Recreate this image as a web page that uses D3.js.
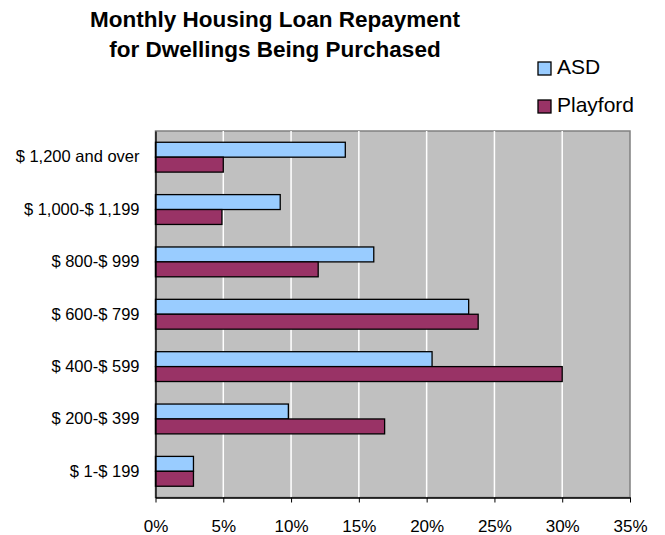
<!DOCTYPE html>
<html>
<head>
<meta charset="utf-8">
<script src="https://cdn.jsdelivr.net/npm/d3@7"></script>
<style>
  body { margin: 0; background: #fff; }
  text { font-family: Arial, "Liberation Sans", sans-serif; fill: #000; }
</style>
</head>
<body>
<svg id="chart"></svg>
<script>
// chart data, top row first
const categories = ["$ 1,200 and over", "$ 1,000-$ 1,199", "$ 800-$ 999", "$ 600-$ 799",
    "$ 400-$ 599", "$ 200-$ 399", "$ 1-$ 199"];
const seriesNames = ["ASD", "Playford"];
const asdValues = [14.0, 9.2, 16.1, 23.1, 20.4, 9.8, 2.8];
const playfordValues = [5.0, 4.9, 12.0, 23.8, 30.0, 16.9, 2.8];
const xTicks = [0, 5, 10, 15, 20, 25, 30, 35];
const titleLines = ["Monthly Housing Loan Repayment", "for Dwellings Being Purchased"];

const colors = { "ASD": "#99CCFF", "Playford": "#993366" };

const width = 665, height = 535;
const plot = { left: 155.5, right: 630, top: 131, bottom: 497.5 };

const svg = d3.select("#chart")
    .attr("width", width)
    .attr("height", height);

// rows of data for the bars
const rows = categories.map((c, i) => ({
    category: c,
    values: [
        { name: "ASD", value: asdValues[i] },
        { name: "Playford", value: playfordValues[i] }
    ]
}));

// X scale (percent)
const x = d3.scaleLinear()
    .domain([0, 35])
    .range([plot.left, plot.right]);

// Y scale, categories and then series within each category
const y = d3.scaleBand()
    .domain(categories)
    .range([plot.top, plot.bottom])
    .paddingInner(0.43)
    .paddingOuter(0.215);

const ySub = d3.scaleBand()
    .domain(seriesNames)
    .range([0, y.bandwidth()]);

// plot background
svg.append("rect")
    .attr("x", plot.left)
    .attr("y", plot.top)
    .attr("width", plot.right - plot.left)
    .attr("height", plot.bottom - plot.top)
    .attr("fill", "#C0C0C0")
    .attr("stroke", "#808080")
    .attr("stroke-width", 1.5);

// white gridlines
svg.append("g")
    .selectAll("line")
    .data(xTicks.filter(t => t > 0 && t < 35))
    .join("line")
    .attr("x1", d => x(d))
    .attr("x2", d => x(d))
    .attr("y1", plot.top)
    .attr("y2", plot.bottom)
    .attr("stroke", "#fff")
    .attr("stroke-width", 1.5);

// bars
const groups = svg.append("g")
    .selectAll("g")
    .data(rows)
    .join("g")
    .attr("transform", d => `translate(0,${y(d.category)})`);

groups.selectAll("rect")
    .data(d => d.values)
    .join("rect")
    .attr("x", x(0))
    .attr("y", d => ySub(d.name))
    .attr("width", d => x(d.value) - x(0))
    .attr("height", ySub.bandwidth())
    .attr("fill", d => colors[d.name])
    .attr("stroke", "#000")
    .attr("stroke-width", 1.3);

// X axis
const xAxis = svg.append("g")
    .attr("transform", `translate(0,${plot.bottom})`)
    .call(d3.axisBottom(x).tickValues(xTicks).tickSize(5).tickSizeOuter(0).tickFormat(d => d + "%"));

xAxis.select(".domain").attr("stroke", "#000").attr("stroke-width", 1.3);
xAxis.selectAll(".tick line").attr("stroke", "#000");
xAxis.selectAll(".tick text")
    .attr("y", 22)
    .style("font-size", "17px")
    .style("font-family", "Arial, 'Liberation Sans', sans-serif");

// Y axis
const yAxis = svg.append("g")
    .attr("transform", `translate(${plot.left},0)`)
    .call(d3.axisLeft(y).tickSize(0).tickPadding(16));

yAxis.select(".domain").attr("stroke", "#000").attr("stroke-width", 1.3);
yAxis.selectAll(".tick text")
    .style("font-size", "16.5px")
    .style("font-family", "Arial, 'Liberation Sans', sans-serif");

// title
svg.append("text")
    .attr("x", 275)
    .attr("y", 27)
    .attr("text-anchor", "middle")
    .style("font-size", "22.5px")
    .style("font-weight", "bold")
    .selectAll("tspan")
    .data(titleLines)
    .join("tspan")
    .attr("x", 275)
    .attr("dy", (d, i) => i === 0 ? 0 : 30)
    .text(d => d);

// legend
const legend = svg.append("g")
    .selectAll("g")
    .data(seriesNames)
    .join("g")
    .attr("transform", (d, i) => `translate(538,${62 + i * 38})`);

legend.append("rect")
    .attr("width", 13)
    .attr("height", 13)
    .attr("fill", d => colors[d])
    .attr("stroke", "#000")
    .attr("stroke-width", 1.3);

legend.append("text")
    .attr("x", 19)
    .attr("y", 12)
    .style("font-size", "21px")
    .text(d => d);
</script>
</body>
</html>
